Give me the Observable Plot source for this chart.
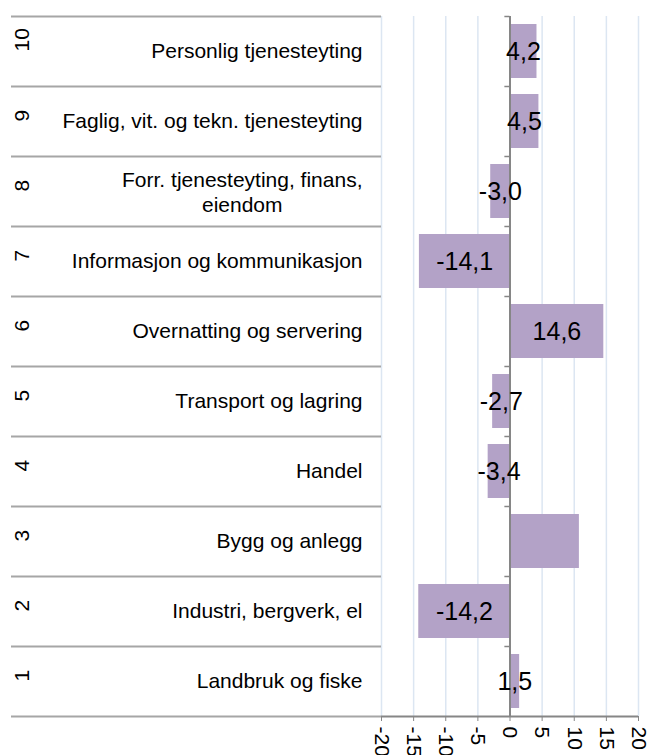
<!DOCTYPE html>
<html><head><meta charset="utf-8">
<script src="https://cdn.jsdelivr.net/npm/d3@7"></script>
<script src="https://cdn.jsdelivr.net/npm/@observablehq/plot@0.6"></script>
<style>
body{margin:0;background:#fff;}
#wrap{position:relative;width:647px;height:755px;font-family:"Liberation Sans",Arial,sans-serif;}
#wrap svg{position:absolute;left:0;top:0;background:transparent;}
</style></head><body><div id="wrap"></div>
<script>
const rows = [1, 2, 3, 4, 5, 6, 7, 8, 9, 10];
const categories = [
  "Landbruk og fiske",
  "Industri, bergverk, el",
  "Bygg og anlegg",
  "Handel",
  "Transport og lagring",
  "Overnatting og servering",
  "Informasjon og kommunikasjon",
  "Forr. tjenesteyting, finans,\neiendom",
  "Faglig, vit. og tekn. tjenesteyting",
  "Personlig tjenesteyting"
];
const values = [1.5, -14.2, 10.8, -3.4, -2.7, 14.6, -14.1, -3.0, 4.5, 4.2];
const showLabel = [true, true, false, true, true, true, true, true, true, true];
const xTicks = [-20, -15, -10, -5, 0, 5, 10, 15, 20];

const fmt = v => v.toFixed(1).replace(".", ",");
const data = rows.map((r, i) => ({
  row: r, category: categories[i], value: values[i],
  label: showLabel[i] ? fmt(values[i]) : null
}));

const W = 647, H = 755, mTop = 16, mBottom = 39, split = 381;
const bw = (H - mTop - mBottom) / rows.length;
const font = '"Liberation Sans", Arial, sans-serif';
const yDomain = rows.slice().reverse();
const lineGray = "#a6a6a6", axisGray = "#868686";

const ctx = document.createElement("canvas").getContext("2d");
ctx.font = "21px " + font;
const multi = data.filter(d => d.category.includes("\n"));
const single = data.filter(d => !d.category.includes("\n"));
const maxW = d => Math.max(...d.category.split("\n").map(s => ctx.measureText(s).width));

const left = Plot.plot({
  width: W, height: H, marginTop: mTop, marginBottom: mBottom,
  marginLeft: 11, marginRight: W - split,
  style: {background: "transparent", fontFamily: font, fontSize: "21px", color: "black"},
  x: {axis: null, domain: [0, 1]},
  y: {type: "band", domain: yDomain, padding: 0, axis: null},
  marks: [
    Plot.ruleY(rows, {y: d => d, dy: -bw / 2, stroke: lineGray, strokeWidth: 2}),
    Plot.ruleY([1], {y: d => d, dy: bw / 2, stroke: lineGray, strokeWidth: 2}),
    Plot.text(rows, {y: d => d, text: d => String(d), frameAnchor: "left", dx: 11, rotate: -90, fontSize: 21, fill: "black"}),
    Plot.text(single, {y: "row", text: "category", frameAnchor: "right", textAnchor: "end", dx: -19, fontSize: 21, fill: "black"}),
    ...multi.map(d => Plot.text([d], {y: "row", text: "category", frameAnchor: "right", textAnchor: "middle", dx: -19 - maxW(d) / 2, lineHeight: 1.2, fontSize: 21, fill: "black"}))
  ]
});

const right = Plot.plot({
  width: W, height: H, marginTop: mTop, marginBottom: mBottom,
  marginLeft: split, marginRight: 9,
  style: {background: "transparent", fontFamily: font, fontSize: "21px", color: "black"},
  x: {domain: [-20, 20]},
  y: {type: "band", domain: yDomain, padding: 0, axis: null},
  marks: [
    Plot.ruleX(xTicks, {stroke: "#dce6f2", strokeWidth: 1.5}),
    Plot.barX(data, {x: "value", y: "row", fill: "#b3a2c7", insetTop: 8, insetBottom: 8}),
    Plot.ruleX([0], {stroke: axisGray, strokeWidth: 2}),
    Plot.ruleY(rows, {y: d => d, dy: -bw / 2, x1: 0, x2: -0.8, stroke: axisGray, strokeWidth: 1.5}),
    Plot.ruleY([1], {y: d => d, dy: bw / 2, stroke: axisGray, strokeWidth: 2}),
    Plot.axisX({ticks: xTicks, tickFormat: d => String(d), tickRotate: 90, tickSize: 5, tickPadding: 5, stroke: axisGray, fill: "black", fontSize: 21, label: null}),
    Plot.text(data.filter(d => d.label), {x: d => d.value / 2, y: "row", text: "label", fontSize: 25, fill: "black"})
  ]
});

const wrap = document.getElementById("wrap");
wrap.append(right, left);
</script>
</body></html>
